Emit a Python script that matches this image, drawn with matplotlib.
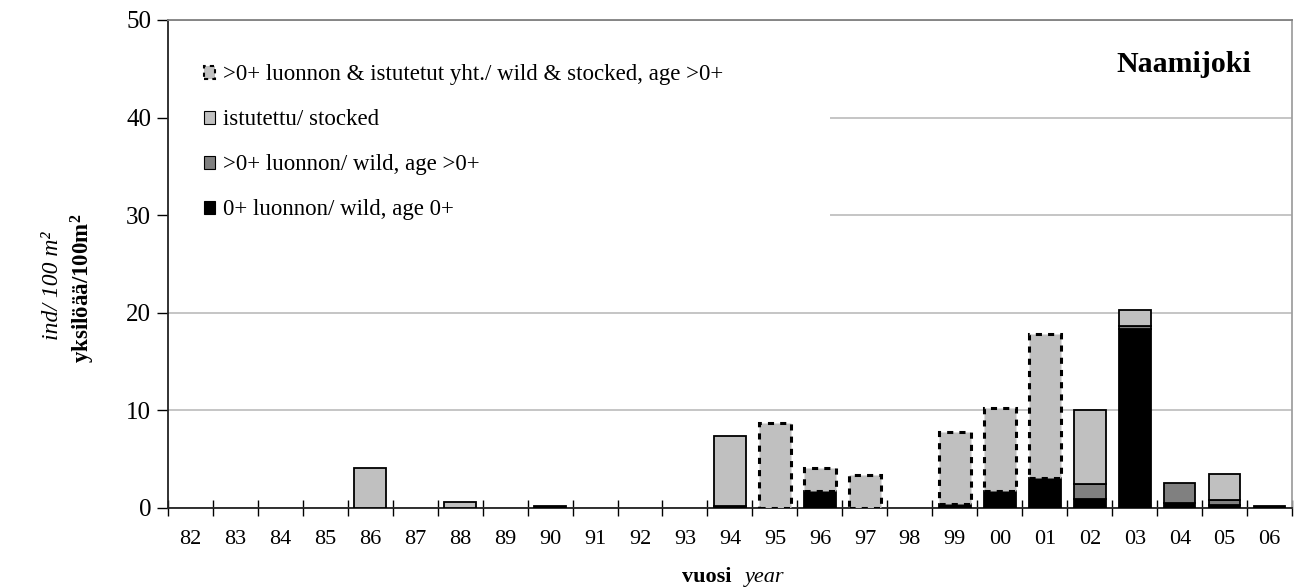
import numpy as np
import matplotlib
matplotlib.use("Agg")
import matplotlib.pyplot as plt
from matplotlib.patches import Patch, Rectangle

plt.rcParams['font.family'] = ['Liberation Serif', 'DejaVu Serif']

# --- Data (ind / 100 m2) ---
years = ['82', '83', '84', '85', '86', '87', '88', '89', '90', '91', '92', '93',
         '94', '95', '96', '97', '98', '99', '00', '01', '02', '03', '04', '05', '06']
wild_0 = [0, 0, 0, 0, 0, 0, 0, 0, 0.2, 0, 0, 0,
          0.2, 0, 1.7, 0, 0, 0.4, 1.7, 3.0, 0.9, 18.3, 0.5, 0.3, 0.2]
wild_older = [0, 0, 0, 0, 0, 0, 0, 0, 0, 0, 0, 0,
              0, 0, 0, 0, 0, 0, 0, 0, 1.55, 0.3, 2.0, 0.5, 0]
stocked = [0, 0, 0, 0, 4.1, 0, 0.6, 0, 0, 0, 0, 0,
           7.2, 0, 0, 0, 0, 0, 0, 0, 7.6, 1.7, 0, 2.7, 0]
combined = [0, 0, 0, 0, 0, 0, 0, 0, 0, 0, 0, 0,
            0, 8.7, 2.4, 3.4, 0, 7.4, 8.5, 14.8, 0, 0, 0, 0, 0]

LIGHT = '#c0c0c0'
DARK = '#808080'


def stacked_bar(ax, x, heights, bottoms, color, ls='solid', lw=1.3):
    h = np.array(heights, dtype=float)
    b = np.array(bottoms, dtype=float)
    m = h > 0
    ax.bar(x[m], h[m], bottom=b[m], width=0.7, color=color,
           edgecolor='black', linewidth=lw, linestyle=ls, zorder=3)


def plot_chart():
    fig = plt.figure(figsize=(13, 5.87), dpi=100)
    ax = fig.add_axes([0.129, 0.135, 0.865, 0.831])
    x = np.arange(len(years))

    b0 = np.zeros(len(years))
    stacked_bar(ax, x, wild_0, b0, 'black')
    b1 = b0 + np.array(wild_0)
    stacked_bar(ax, x, wild_older, b1, DARK)
    b2 = b1 + np.array(wild_older)
    stacked_bar(ax, x, stocked, b2, LIGHT)
    stacked_bar(ax, x, combined, b2, LIGHT, ls=(0, (2, 2)), lw=2.2)

    ax.set_xlim(-0.5, len(years) - 0.5)
    ax.set_ylim(0, 50)
    ax.set_yticks(np.arange(0, 51, 10))
    ax.yaxis.grid(True, color=LIGHT, linewidth=1.3, zorder=0)
    ax.set_axisbelow(True)

    ax.set_xticks(x)
    ax.set_xticklabels(years, fontsize=16)
    ax.set_xticks(np.arange(-0.5, len(years), 1), minor=True)
    ax.tick_params(axis='x', which='major', length=0, pad=16)
    ax.tick_params(axis='x', which='minor', direction='inout', length=11, width=1)
    ax.tick_params(axis='y', labelsize=18, length=8, width=1, pad=4)

    for s in ['left', 'bottom']:
        ax.spines[s].set_color('#222222')
        ax.spines[s].set_linewidth(1.3)
    ax.spines['top'].set_color('#808080')
    ax.spines['right'].set_color('#a0a0a0')
    ax.spines['top'].set_linewidth(1.3)
    ax.spines['right'].set_linewidth(1.3)

    # white area behind the legend hides the grid lines
    ax.add_patch(Rectangle((0, 0.5), 0.589, 0.44, transform=ax.transAxes,
                           facecolor='white', edgecolor='none', zorder=1))

    handles = [
        Patch(facecolor=LIGHT, edgecolor='black', linestyle=(0, (2, 2)), linewidth=1.5,
              label='>0+ luonnon & istutetut yht./ wild & stocked, age >0+'),
        Patch(facecolor=LIGHT, edgecolor='black', linewidth=0.8, label='istutettu/ stocked'),
        Patch(facecolor=DARK, edgecolor='black', linewidth=0.8, label='>0+ luonnon/ wild, age >0+'),
        Patch(facecolor='black', edgecolor='black', linewidth=0.8, label='0+ luonnon/ wild, age 0+'),
    ]
    ax.legend(handles=handles, loc='upper left', bbox_to_anchor=(0.024, 0.928),
              frameon=False, fontsize=16.5, handlelength=0.5, handleheight=0.5,
              handletextpad=0.35, labelspacing=1.05, borderaxespad=0)

    ax.text(0.964, 45.4, 'Naamijoki', transform=ax.get_yaxis_transform(),
            ha='right', va='center', fontsize=21.5, fontweight='bold')

    # y labels, two lines
    fig.text(0.040, 0.513, 'ind/ 100 m²', rotation=90, ha='center',
             va='center', fontsize=17, fontstyle='italic')
    fig.text(0.064, 0.508, 'yksilöää/100m$\\mathbf{^2}$', rotation=90, ha='center',
             va='center', fontsize=16.5, fontweight='bold')

    # x label
    fig.text(0.563, 0.008, 'vuosi', ha='right', va='baseline', fontsize=16, fontweight='bold')
    fig.text(0.573, 0.008, 'year', ha='left', va='baseline', fontsize=16, fontstyle='italic')

    fig.savefig('out.png', dpi=100)


if __name__ == "__main__":
    plt.rcParams['mathtext.fontset'] = 'custom'
    plt.rcParams['mathtext.rm'] = 'Liberation Serif'
    plt.rcParams['mathtext.it'] = 'Liberation Serif:italic'
    plt.rcParams['mathtext.bf'] = 'Liberation Serif:bold'
    plot_chart()
